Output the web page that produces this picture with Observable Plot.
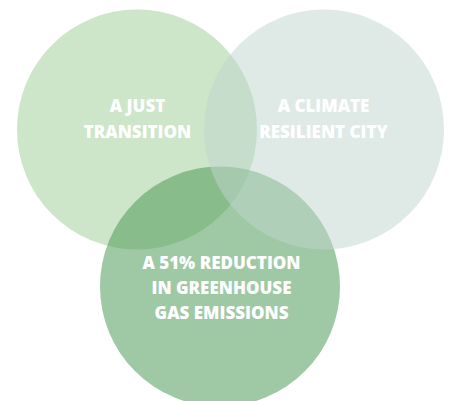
<!DOCTYPE html>
<html>
<head>
<meta charset="utf-8">
<script src="https://cdn.jsdelivr.net/npm/d3@7"></script>
<script src="https://cdn.jsdelivr.net/npm/@observablehq/plot@0.6"></script>
<style>
  html, body { margin: 0; padding: 0; background: #ffffff; }
  #chart svg { display: block; }
</style>
</head>
<body>
<div id="chart"></div>
<script>
// Circles, in draw order (bottom circle is drawn between the two top ones)
const names   = ["A JUST\nTRANSITION", "A 51% REDUCTION\nIN GREENHOUSE\nGAS EMISSIONS", "A CLIMATE\nRESILIENT CITY"];
const centerX = [136.5, 219.5, 323.5];
const centerY = [129, 286, 129];
const radii   = [120, 120, 120];
const fills   = ["#cde5c8", "#509b5a", "#bfd5cd"];
const alphas  = [1, 0.55, 0.5];
// Label anchors
const labelX  = [137, 221, 323];
const labelY  = [116.5, 285.5, 116.5];
const lineHts = [1.53, 1.47, 1.53];

const circles = names.map((n, i) => ({name: n, x: centerX[i], y: centerY[i], r: radii[i], fill: fills[i], a: alphas[i]}));
const labels = names.map((n, i) => ({name: n, x: labelX[i], y: labelY[i], lh: lineHts[i]}));

const marks = [];
circles.forEach(c => {
  marks.push(Plot.dot([c], {x: "x", y: "y", r: "r", fill: c.fill, fillOpacity: c.a, stroke: null}));
});
labels.forEach(l => {
  marks.push(Plot.text([l], {
    x: "x", y: "y", text: "name",
    fill: "white", fontSize: 17, fontWeight: 800,
    fontFamily: "'Open Sans', sans-serif",
    lineHeight: l.lh, textAnchor: "middle"
  }));
});

const chart = Plot.plot({
  width: 451,
  height: 401,
  margin: 0,
  x: {domain: [0, 451], axis: null},
  y: {domain: [0, 401], axis: null, reverse: false, range: [0, 401]},
  r: {type: "identity"},
  style: {background: "white", overflow: "hidden"},
  marks
});
document.getElementById("chart").appendChild(chart);
</script>
</body>
</html>
